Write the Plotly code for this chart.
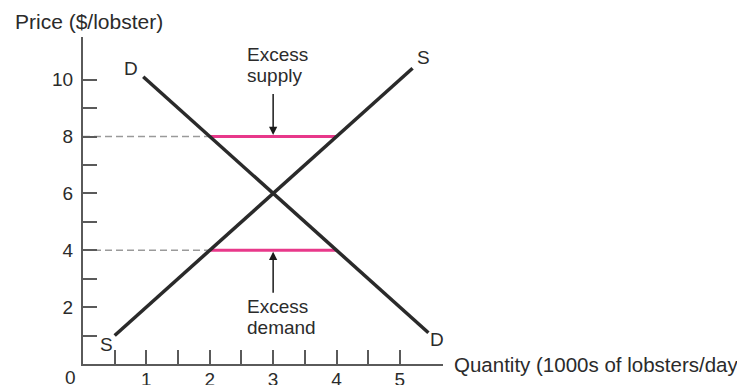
import plotly.graph_objects as go

# Data
supply_q = [0.5, 5.2]
supply_p = [1.0, 10.4]
demand_q = [0.95, 5.45]
demand_p = [10.1, 1.1]
high_price = 8
low_price = 4
shortage_q = [2, 4]          # quantity range at the high and low price
x_ticks = [1, 2, 3, 4, 5]
x_minor = [0.5, 1.5, 2.5, 3.5, 4.5]
y_ticks = [2, 4, 6, 8, 10]
y_minor = [1, 3, 5, 7, 9]

FONT = "Liberation Sans, Arial, Helvetica, sans-serif"
TXT = "#2b2b2b"
AX = "#5a5a5a"
PINK = "#e8388a"

fig = go.Figure()

# dashed guides from the price axis
for p in [high_price, low_price]:
    fig.add_trace(go.Scatter(x=[0, shortage_q[0]], y=[p, p], mode="lines",
                             line=dict(color="#9a9a9a", width=1.6, dash="7px,4px"),
                             hoverinfo="skip", showlegend=False))
    fig.add_trace(go.Scatter(x=shortage_q, y=[p, p], mode="lines",
                             line=dict(color=PINK, width=3),
                             hoverinfo="skip", showlegend=False))

fig.add_trace(go.Scatter(x=supply_q, y=supply_p, mode="lines",
                         line=dict(color="#2a2a2a", width=3.5), showlegend=False))
fig.add_trace(go.Scatter(x=demand_q, y=demand_p, mode="lines",
                         line=dict(color="#2a2a2a", width=3.5), showlegend=False))

ann = []
def txt(x, y, t, size=20, xanchor="center", ref="data"):
    xr, yr = ("x", "y") if ref == "data" else ("paper", "paper")
    ann.append(dict(x=x, y=y, xref=xr, yref=yr, text=t, showarrow=False,
                    xanchor=xanchor, yanchor="middle",
                    font=dict(family=FONT, size=size, color=TXT)))

txt(0.76, 10.39, "D", 19)
txt(5.38, 10.79, "S", 19)
txt(0.37, 0.68, "S", 19)
txt(5.59, 0.85, "D", 19)
txt(2.56, 10.89, "Excess", 19, "left")
txt(2.56, 10.15, "supply", 19, "left")
txt(2.56, 2.01, "Excess", 19, "left")
txt(2.56, 1.27, "demand", 19, "left")
txt(-0.036, -0.042, "0", 19, "center", "paper")
txt(-0.195, 1.047, "Price ($/lobster)", 21, "left", "paper")
txt(1.024, 0.0, "Quantity (1000s of lobsters/day)", 20.5, "left", "paper")

# arrows
ann.append(dict(x=3, y=high_price + 0.05, ax=3, ay=9.55, xref="x", yref="y",
                axref="x", ayref="y", text="", showarrow=True, arrowhead=2,
                arrowsize=1.1, arrowwidth=1.5, arrowcolor="#1a1a1a", standoff=0))
ann.append(dict(x=3, y=low_price - 0.05, ax=3, ay=2.45, xref="x", yref="y",
                axref="x", ayref="y", text="", showarrow=True, arrowhead=2,
                arrowsize=1.1, arrowwidth=1.5, arrowcolor="#1a1a1a", standoff=0))

fig.update_layout(
    width=745, height=385,
    margin=dict(l=75, r=310, t=29, b=29, autoexpand=False),
    paper_bgcolor="white", plot_bgcolor="white",
    annotations=ann,
    xaxis=dict(range=[0, 5.68], showgrid=False, zeroline=False, automargin=False,
               showline=True, linecolor=AX, linewidth=2,
               tickmode="array", tickvals=x_ticks, ticktext=[str(v) for v in x_ticks],
               ticks="inside", ticklen=14, tickwidth=1.5, tickcolor=AX,
               ticklabelstandoff=-3,
               minor=dict(tickvals=x_minor, ticks="inside", ticklen=14,
                          tickwidth=1.5, tickcolor=AX, showgrid=False),
               tickfont=dict(family=FONT, size=19, color=TXT), fixedrange=True),
    yaxis=dict(range=[0, 11.5], showgrid=False, zeroline=False, automargin=False,
               showline=True, linecolor=AX, linewidth=2,
               tickmode="array", tickvals=y_ticks, ticktext=[str(v) for v in y_ticks],
               ticks="inside", ticklen=14, tickwidth=1.5, tickcolor=AX,
               ticklabelstandoff=4,
               minor=dict(tickvals=y_minor, ticks="inside", ticklen=14,
                          tickwidth=1.5, tickcolor=AX, showgrid=False),
               tickfont=dict(family=FONT, size=19, color=TXT), fixedrange=True),
)

fig.write_html("out.html")
